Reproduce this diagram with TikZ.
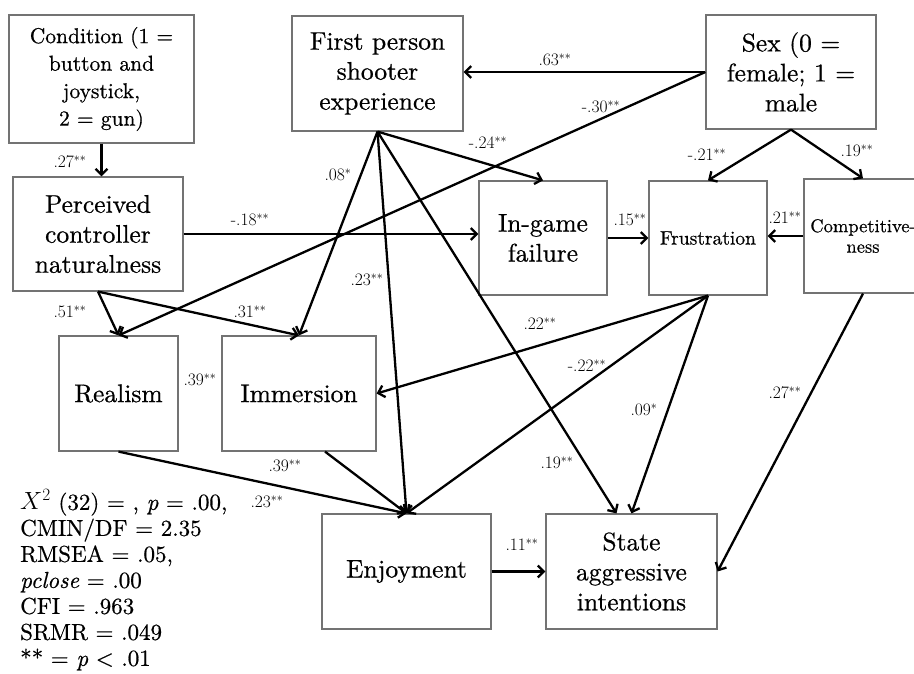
\documentclass[tikz,border=0pt]{standalone}
\usepackage{fontspec}
\newfontfamily\heavy{lmroman10-regular.otf}[FakeBold=0.6,ItalicFont=lmroman10-italic.otf]
\usetikzlibrary{arrows.meta}
\begin{document}
\begin{tikzpicture}[x=1pt,y=-1pt,
    box/.style={draw=black!55,line width=1.2pt,fill=white,align=center,inner sep=2pt,
        font=\heavy\fontsize{25.5}{30}\selectfont},
    lbl/.style={font=\fontsize{17.5}{19}\selectfont,inner sep=0pt},
    link/.style={line width=2.3pt,-{Straight Barb[length=6pt,width=12pt]}}]
    \path[use as bounding box,fill=white] (0,0) rectangle (914,673);
    % boxes
    \node[box,minimum width=185pt,minimum height=128pt,font=\heavy\fontsize{21.5}{27.5}\selectfont] (cond) at (101.5,79) {Condition (1 =\\button and\\joystick,\\2 = gun)};
    \node[box,minimum width=171pt,minimum height=115pt] (fps) at (377.5,73.5) {First person\\shooter\\experience};
    \node[box,minimum width=170pt,minimum height=114pt] (sex) at (791,72) {Sex (0 =\\female; 1 =\\male};
    \node[box,minimum width=170pt,minimum height=114pt] (nat) at (98,234) {Perceived\\controller\\naturalness};
    \node[box,minimum width=128pt,minimum height=114pt] (fail) at (543,238) {In-game\\failure};
    \node[box,minimum width=118pt,minimum height=114pt,font=\heavy\fontsize{19.5}{20.5}\selectfont] (frus) at (708,238) {Frustration};
    \node[box,minimum width=118pt,minimum height=114pt,font=\heavy\fontsize{18.5}{20.5}\selectfont] (comp) at (863,236) {Competitive-\\ness};
    \node[box,minimum width=119pt,minimum height=115pt] (real) at (118.5,393.5) {Realism};
    \node[box,minimum width=154pt,minimum height=115pt] (imm) at (299,393.5) {Immersion};
    \node[box,minimum width=169pt,minimum height=115pt] (enj) at (406.5,571.5) {Enjoyment};
    \node[box,minimum width=171pt,minimum height=115pt] (aggr) at (631.5,571.5) {State\\aggressive\\intentions};
    % paths
    \draw[link] (cond.south) -- (cond.south |- nat.north);
    \draw[link] (sex.west) -- (sex.west -| fps.east);
    \draw[link] (sex.west) -- (real.north);
    \draw[link] (fps.south) -- (imm.north);
    \draw[link] (fps.south) -- (enj.north);
    \draw[link] (fps.south) -- (fail.north);
    \draw[link] (fps.south) -- ([xshift=-15pt]aggr.north);
    \draw[link] (nat.east) -- (nat.east -| fail.west);
    \draw[link] (nat.south) -- (real.north);
    \draw[link] (nat.south) -- (imm.north);
    \draw[link] (fail.east) -- (frus.west);
    \draw[link] (comp.west) -- (comp.west -| frus.east);
    \draw[link] (sex.south) -- (frus.north);
    \draw[link] (sex.south) -- (comp.north);
    \draw[link] (frus.south) -- (imm.east);
    \draw[link] (frus.south) -- (enj.north);
    \draw[link] (frus.south) -- (aggr.north);
    \draw[link] (comp.south) -- (aggr.east);
    \draw[link] (real.south) -- (enj.north);
    \draw[link] ([xshift=26pt]imm.south) -- (enj.north);
    \draw[link] (enj.east) -- (aggr.west);
    % coefficients
    \node[lbl] (b1) at (70,162) {.27$^{**}$};
    \node[lbl] (b2) at (555,60) {.63$^{**}$};
    \node[lbl] (b3) at (601,107) {-.30$^{**}$};
    \node[lbl] (b4) at (338,175) {.08$^{*}$};
    \node[lbl] (b5) at (367,280) {.23$^{**}$};
    \node[lbl] (b6) at (488,143) {-.24$^{**}$};
    \node[lbl] (b7) at (557,463) {.19$^{**}$};
    \node[lbl] (b8) at (250,220) {-.18$^{**}$};
    \node[lbl] (b9) at (70,312) {.51$^{**}$};
    \node[lbl] (b10) at (250,312) {.31$^{**}$};
    \node[lbl] (b11) at (630,220) {.15$^{**}$};
    \node[lbl] (b12) at (785,218) {.21$^{**}$};
    \node[lbl] (b13) at (707,155) {-.21$^{**}$};
    \node[lbl] (b14) at (857,151) {.19$^{**}$};
    \node[lbl] (b15) at (540,324) {.22$^{**}$};
    \node[lbl] (b16) at (587,366) {-.22$^{**}$};
    \node[lbl] (b17) at (644,410) {.09$^{*}$};
    \node[lbl] (b18) at (785,393) {.27$^{**}$};
    \node[lbl] (b19) at (267,502) {.23$^{**}$};
    \node[lbl] (b20) at (285,466) {.39$^{**}$};
    \node[lbl] (b21) at (200,380) {.39$^{**}$};
    \node[lbl] (b22) at (522,545) {.11$^{**}$};
    % fit statistics
    \node[anchor=west,align=left,inner sep=0pt,font=\heavy\fontsize{23}{26}\selectfont] (fit) at (20,580) {$X^2$ (32) = , \textit{p} = .00,\\CMIN/DF = 2.35\\RMSEA = .05,\\\textit{pclose} = .00\\CFI = .963\\SRMR = .049\\** = \textit{p} < .01};
\end{tikzpicture}
\end{document}
